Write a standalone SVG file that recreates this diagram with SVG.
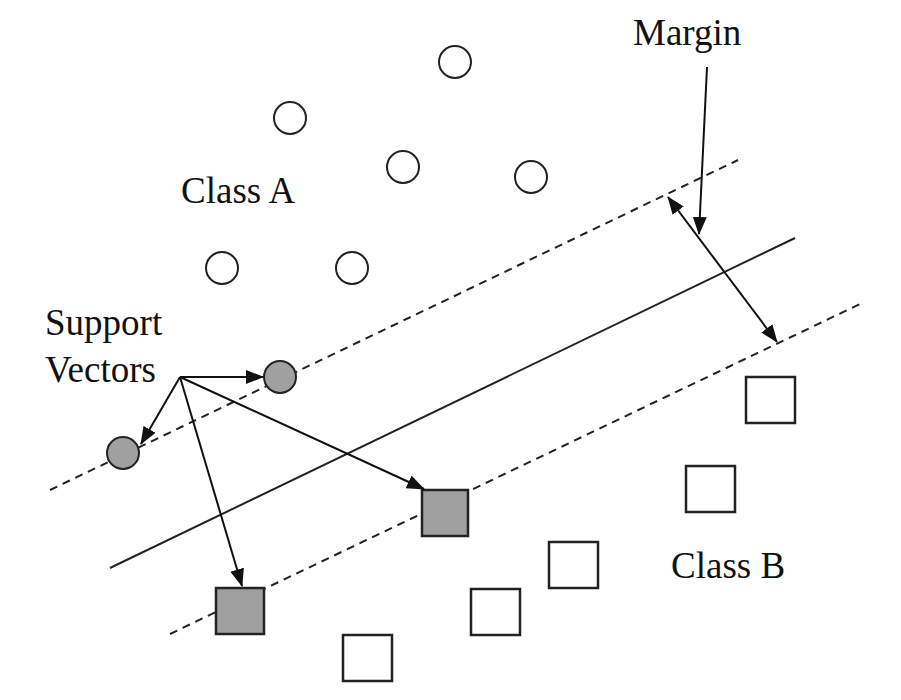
<svg xmlns="http://www.w3.org/2000/svg" width="901" height="700" viewBox="0 0 901 700">
<style>
.bg{fill:#fff}
.ca{fill:#fff;stroke:#222;stroke-width:2}
.sv{fill:#a0a0a0;stroke:#222;stroke-width:2}
.cb{fill:#fff;stroke:#222;stroke-width:2.5}
.svb{fill:#a0a0a0;stroke:#222;stroke-width:2.5}
.solid{stroke:#222;stroke-width:2;fill:none}
.dash{stroke:#222;stroke-width:2;fill:none;stroke-dasharray:8 6}
.arr{stroke:#111;stroke-width:2;fill:none;marker-end:url(#ah)}
.txt{font-family:"Liberation Serif","Times New Roman",serif;font-size:37px;fill:#111}
</style>
<defs>
<marker id="ah" markerUnits="userSpaceOnUse" markerWidth="18" markerHeight="14" refX="17" refY="7" orient="auto-start-reverse" viewBox="0 0 18 14">
<path d="M0,0 L18,7 L0,14 z" fill="#111"/>
</marker>
</defs>
<rect class="bg" x="0" y="0" width="901" height="700"/>
<g id="lines">
<line class="dash" x1="50" y1="490" x2="738" y2="160"/>
<line class="solid" x1="110" y1="568" x2="795" y2="238"/>
<line class="dash" x1="170" y1="634" x2="860" y2="304"/>
</g>
<g id="classA">
<circle class="ca" cx="455" cy="62" r="16"/>
<circle class="ca" cx="290" cy="118" r="16"/>
<circle class="ca" cx="403" cy="167" r="16"/>
<circle class="ca" cx="531" cy="177" r="16"/>
<circle class="ca" cx="222" cy="268" r="16"/>
<circle class="ca" cx="352" cy="268" r="16"/>
</g>
<g id="svA">
<circle class="sv" cx="280" cy="377" r="16"/>
<circle class="sv" cx="123" cy="453" r="16"/>
</g>
<g id="classB">
<rect class="cb" x="746" y="377" width="49" height="46"/>
<rect class="cb" x="686" y="466" width="49" height="46"/>
<rect class="cb" x="549" y="542" width="49" height="46"/>
<rect class="cb" x="471" y="589" width="49" height="46"/>
<rect class="cb" x="343" y="635" width="49" height="46"/>
</g>
<g id="svB">
<rect class="svb" x="422" y="490" width="46" height="46"/>
<rect class="svb" x="216" y="588" width="48" height="46"/>
</g>
<g id="labels">
<text class="txt" x="181" y="203">Class A</text>
<text class="txt" x="671" y="578">Class B</text>
<text class="txt" x="633" y="45">Margin</text>
<text class="txt" x="45" y="335">Support</text>
<text class="txt" x="45" y="382">Vectors</text>
</g>
<g id="connectors">
<line class="arr" x1="180" y1="377" x2="263" y2="377"/>
<line class="arr" x1="180" y1="377" x2="141" y2="444"/>
<line class="arr" x1="180" y1="377" x2="424" y2="489"/>
<line class="arr" x1="180" y1="377" x2="242" y2="586"/>
<line class="arr" x1="707" y1="67" x2="699" y2="234"/>
<line class="arr" x1="668" y1="197" x2="777" y2="342" marker-start="url(#ah)"/>
</g>
</svg>
